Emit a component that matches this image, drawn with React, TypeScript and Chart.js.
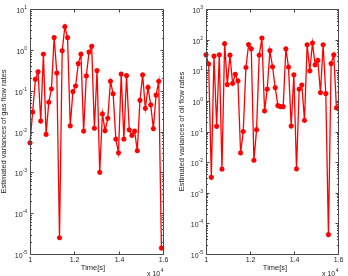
import React, { useEffect, useRef } from "react";
import { Chart, registerables } from "chart.js";

Chart.register(...registerables);

const TIMES = [
  10000, 10121, 10242, 10363, 10484, 10605, 10726, 10847, 10968, 11089,
  11210, 11331, 11452, 11573, 11694, 11815, 11936, 12057, 12178, 12299,
  12420, 12541, 12662, 12783, 12904, 13025, 13146, 13267, 13388, 13509,
  13630, 13751, 13872, 13993, 14114, 14235, 14356, 14477, 14598, 14719,
  14840, 14961, 15082, 15203, 15324, 15445, 15566, 15687, 15808, 15929,
];

const GAS_VAR = [
  0.0053, 0.03, 0.19, 0.29, 0.018, 0.78, 0.0085, 0.052, 0.11, 2.0,
  0.27, 0.000025, 0.95, 3.7, 2.0, 0.0138, 0.095, 0.13, 0.46, 0.78,
  0.0102, 0.23, 0.88, 1.22, 0.012, 0.31, 0.001, 0.027, 0.0105, 0.021,
  0.17, 0.084, 0.0065, 0.003, 0.255, 0.0065, 0.235, 0.011, 0.008, 0.0102,
  0.0034, 0.058, 0.245, 0.037, 0.12, 0.045, 0.0117, 0.078, 0.17, 0.000014,
];

const OIL_VAR = [
  32, 16, 0.0032, 29, 0.148, 32, 0.0059, 74, 3.4, 31,
  3.7, 7.4, 4.5, 0.02, 0.1, 12.3, 69, 50, 0.0115, 0.115,
  31, 112, 0.47, 2.4, 44, 13, 2.7, 0.7, 0.65, 0.65,
  50, 12.6, 0.15, 7.1, 0.006, 2.4, 3.3, 0.23, 68, 9.6,
  77, 15, 21, 1.87, 68, 1.74, 0.000043, 16.6, 32, 0.59,
];

const X_TICKS = [10000, 12000, 14000, 16000];
const X_TICK_LABELS = ["1", "1.2", "1.4", "1.6"];
const X_MIN = 10000;
const X_MAX = 16000;

const FONT = '"Liberation Sans", Arial, sans-serif';
const AXIS_COLOR = "#4a4a4a";
const TEXT_COLOR = "#262626";

type PanelCfg = {
  data: number[];
  yMinExp: number;
  yMaxExp: number;
  yTitle: string;
  pad: { left: number; top: number; right: number; bottom: number };
  yTitleX: number;
  xTitleX: number;
};

function makePlugin(cfg: PanelCfg) {
  return {
    id: "matlabAxes",
    afterDraw(chart: any) {
      const { ctx, chartArea: a, scales } = chart;
      const xs = scales.x;
      const ys = scales.y;
      ctx.save();
      ctx.strokeStyle = AXIS_COLOR;
      ctx.lineWidth = 1;
      const L = Math.round(a.left) + 0.5;
      const R = Math.round(a.right) + 0.5;
      const T = Math.round(a.top) + 0.5;
      const B = Math.round(a.bottom) + 0.5;
      ctx.beginPath();
      ctx.rect(L, T, R - L, B - T);
      ctx.stroke();

      const line = (x1: number, y1: number, x2: number, y2: number) => {
        ctx.beginPath();
        ctx.moveTo(x1, y1);
        ctx.lineTo(x2, y2);
        ctx.stroke();
      };

      // x ticks
      ctx.fillStyle = TEXT_COLOR;
      ctx.font = `7px ${FONT}`;
      ctx.textAlign = "center";
      ctx.textBaseline = "top";
      X_TICKS.forEach((v, i) => {
        const px = Math.round(xs.getPixelForValue(v)) + 0.5;
        line(px, B, px, B - 3);
        line(px, T, px, T + 3);
        ctx.fillText(X_TICK_LABELS[i], px, B + 2);
      });

      // y ticks
      for (let e = cfg.yMinExp; e <= cfg.yMaxExp; e++) {
        const py = Math.round(ys.getPixelForValue(Math.pow(10, e))) + 0.5;
        line(L, py, L + 3, py);
        line(R, py, R - 3, py);
        if (e < cfg.yMaxExp) {
          for (let k = 2; k <= 9; k++) {
            const pm = Math.round(ys.getPixelForValue(k * Math.pow(10, e))) + 0.5;
            line(L, pm, L + 1.5, pm);
            line(R, pm, R - 1.5, pm);
          }
        }
        const exp = String(e);
        ctx.font = `5px ${FONT}`;
        const ew = ctx.measureText(exp).width;
        ctx.textAlign = "right";
        ctx.textBaseline = "alphabetic";
        ctx.fillText(exp, a.left - 3, py - 0.5);
        ctx.font = `7px ${FONT}`;
        ctx.fillText("10", a.left - 3 - ew, py + 3);
      }

      // x multiplier
      ctx.textAlign = "left";
      ctx.textBaseline = "alphabetic";
      ctx.font = `7px ${FONT}`;
      const mx = a.right - 16;
      ctx.fillText("x 10", mx, 275.5);
      const w10 = ctx.measureText("x 10").width;
      ctx.font = `5px ${FONT}`;
      ctx.fillText("4", mx + w10 + 0.5, 271.5);

      // titles
      ctx.font = `7.5px ${FONT}`;
      ctx.textAlign = "center";
      ctx.textBaseline = "middle";
      ctx.fillText("Time[s]", cfg.xTitleX, 268);
      ctx.save();
      ctx.translate(cfg.yTitleX, (a.top + a.bottom) / 2);
      ctx.rotate(-Math.PI / 2);
      ctx.fillText(cfg.yTitle, 0, 0);
      ctx.restore();

      ctx.restore();
    },
  };
}

function Panel({ cfg, left }: { cfg: PanelCfg; left: number }) {
  const ref = useRef<HTMLCanvasElement | null>(null);
  useEffect(() => {
    if (!ref.current) return;
    const chart = new Chart(ref.current, {
      type: "line",
      data: {
        datasets: [
          {
            data: TIMES.map((t, i) => ({ x: t, y: cfg.data[i] })),
            borderColor: "#ff0000",
            backgroundColor: "#ff0000",
            borderWidth: 1.3,
            pointStyle: "star",
            pointRadius: 2.6,
            pointBorderWidth: 1.5,
            pointBorderColor: "#ff0000",
            pointBackgroundColor: "#ff0000",
            tension: 0,
            clip: false as any,
          },
        ],
      },
      options: {
        animation: false,
        responsive: false,
        devicePixelRatio: 1,
        layout: { padding: cfg.pad },
        plugins: {
          legend: { display: false },
          tooltip: { enabled: false },
        },
        scales: {
          x: { type: "linear", min: X_MIN, max: X_MAX, display: false },
          y: {
            type: "logarithmic",
            min: Math.pow(10, cfg.yMinExp),
            max: Math.pow(10, cfg.yMaxExp),
            display: false,
          },
        },
      },
      plugins: [makePlugin(cfg)],
    });
    return () => chart.destroy();
  }, []);
  return (
    <div style={{ position: "absolute", left, top: 0, width: 174, height: 276 }}>
      <canvas ref={ref} width={174} height={276} style={{ display: "block" }} />
    </div>
  );
}

const LEFT_CFG: PanelCfg = {
  data: GAS_VAR,
  yMinExp: -5,
  yMaxExp: 1,
  yTitle: "Estimated variances of gas flow rates",
  pad: { left: 30, top: 9, right: 11, bottom: 22 },
  yTitleX: 4,
  xTitleX: 93,
};

const RIGHT_CFG: PanelCfg = {
  data: OIL_VAR,
  yMinExp: -5,
  yMaxExp: 3,
  yTitle: "Estimated variances of oil flow rates",
  pad: { left: 32, top: 9, right: 10, bottom: 22 },
  yTitleX: 8,
  xTitleX: 101,
};

export default function App() {
  return (
    <div style={{ position: "fixed", left: 0, top: 0, width: 348, height: 276, background: "#fff" }}>
      <Panel cfg={LEFT_CFG} left={0} />
      <Panel cfg={RIGHT_CFG} left={174} />
    </div>
  );
}
